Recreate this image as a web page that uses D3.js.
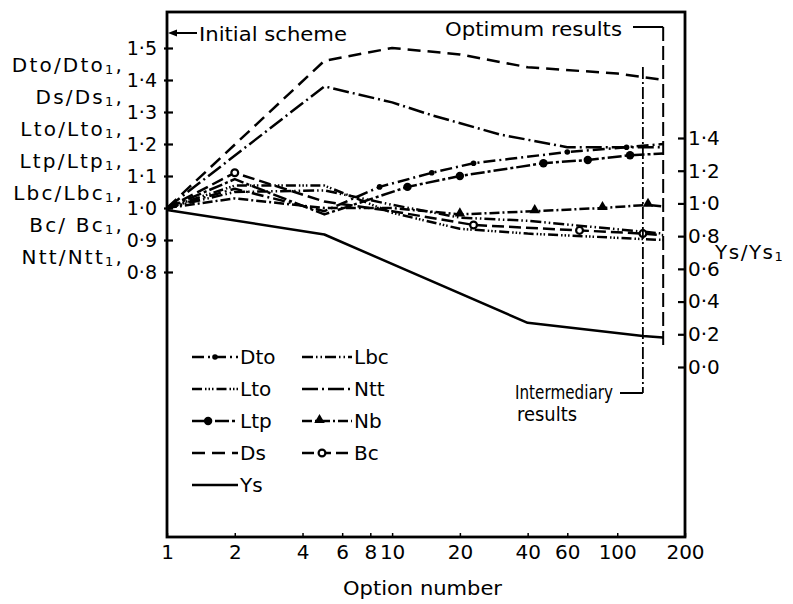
<!DOCTYPE html>
<html><head><meta charset="utf-8">
<script src="https://cdn.jsdelivr.net/npm/d3@7"></script>
<style>
body{margin:0;background:#fff}
svg{display:block}
text{font-family:"DejaVu Sans",sans-serif;fill:#000}
</style>
</head><body>
<svg id="c" width="793" height="604"></svg>
<script>
// ---- data ----
const optionTicks = [1, 2, 4, 6, 8, 10, 20, 40, 60, 100, 200];
const leftTicks = [0.8, 0.9, 1.0, 1.1, 1.2, 1.3, 1.4, 1.5];
const rightTicks = [0.0, 0.2, 0.4, 0.6, 0.8, 1.0, 1.2, 1.4];
const leftLabelNames = ["Dto/Dto", "Ds/Ds", "Lto/Lto", "Ltp/Ltp", "Lbc/Lbc", "Bc/ Bc", "Ntt/Ntt"];

// [option number, ratio]
const ds  = [[1,1.0],[5,1.46],[10,1.50],[20,1.48],[40,1.44],[100,1.42],[160,1.40]];
const ntt = [[1,1.0],[5,1.38],[10,1.33],[15,1.29],[30,1.23],[60,1.19],[160,1.19]];
const dto = [[1,1.0],[2,1.06],[5,0.99],[8.8,1.066],[15,1.11],[23,1.14],[60,1.175],[110,1.19],[160,1.20]];
const ltp = [[1,1.0],[2,1.09],[5,0.98],[11.7,1.066],[20,1.10],[47,1.14],[74,1.15],[114,1.165],[160,1.17]];
const nb  = [[1,1.0],[2,1.03],[5,1.00],[10,1.0],[20,0.98],[43,0.99],[86,1.0],[137,1.01],[160,1.005]];
const lbc = [[1,1.0],[2,1.05],[5,1.055],[10,1.01],[20,0.97],[40,0.96],[160,0.92]];
const bc  = [[1,1.0],[2,1.11],[5,1.02],[10,0.99],[23,0.947],[68,0.93],[130,0.92],[160,0.915]];
const lto = [[1,1.0],[2,1.07],[5,1.07],[10,0.985],[20,0.935],[40,0.92],[160,0.90]];
const ys  = [[1,0.96],[5,0.81],[40,0.27],[130,0.19],[160,0.18]];   // right axis

const dtoMarks = [8.8, 15, 23, 60, 110];
const ltpMarks = [11.7, 20, 47, 74, 114];
const nbMarks  = [20, 43, 86, 137];
const bcMarks  = [2, 23, 68, 130];

const intermediaryOption = 130;
const optimumOption = 160;

// ---- scales ----
const svg = d3.select("#c");
const x  = d3.scaleLog().domain([1, 200]).range([167, 685]);
const yL = d3.scaleLinear().domain([0.8, 1.5]).range([272, 48]);
const yR = d3.scaleLinear().domain([0, 1.4]).range([367, 138]);
const fmt = d => d3.format(".1f")(d).replace(".", "·");

const series = [
  {name:"Ds",  data:ds,  y:yL, dash:"13,7"},
  {name:"Ntt", data:ntt, y:yL, dash:"16,4,2,4"},
  {name:"Dto", data:dto, y:yL, dash:"12,4,2,4", marks:dtoMarks, marker:"dot"},
  {name:"Ltp", data:ltp, y:yL, dash:"14,3,3,3", marks:ltpMarks, marker:"big"},
  {name:"Nb",  data:nb,  y:yL, dash:"10,3,2,3", marks:nbMarks, marker:"tri"},
  {name:"Lbc", data:lbc, y:yL, dash:"11,3,1.5,3,1.5,3"},
  {name:"Bc",  data:bc,  y:yL, dash:"12,5", marks:bcMarks, marker:"circ"},
  {name:"Lto", data:lto, y:yL, dash:"10,3,1.5,2,1.5,2,1.5,3"},
  {name:"Ys",  data:ys,  y:yR, dash:null}
];
const byName = Object.fromEntries(series.map(s => [s.name, s]));

// ---- frame ----
svg.append("rect").attr("x",167).attr("y",12).attr("width",518).attr("height",525)
  .attr("fill","none").attr("stroke","#000").attr("stroke-width",2.8);

// ---- axes ----
const gx = svg.append("g").attr("transform","translate(0,537)")
  .call(d3.axisBottom(x).tickValues(optionTicks).tickFormat(d3.format("d")).tickSize(-4).tickPadding(8));
gx.select(".domain").remove();
gx.selectAll("line").attr("stroke-width",1.5);
gx.selectAll("text").attr("font-size",20).attr("font-family","DejaVu Sans");

const gl = svg.append("g").attr("transform","translate(167,0)")
  .call(d3.axisLeft(yL).tickValues(leftTicks).tickFormat(fmt).tickSize(-6).tickPadding(10));
gl.select(".domain").remove();
gl.selectAll("line").attr("stroke-width",2.2).attr("x1",-3);
gl.selectAll("text").attr("font-size",19).attr("font-family","DejaVu Sans");

const gr = svg.append("g").attr("transform","translate(685,0)")
  .call(d3.axisRight(yR).tickValues(rightTicks).tickFormat(fmt).tickSize(-7).tickPadding(3));
gr.select(".domain").remove();
gr.selectAll("line").attr("stroke-width",2.2);
gr.selectAll("text").attr("font-size",20).attr("font-family","DejaVu Sans");

// ---- axis titles ----
const ll = svg.append("g").attr("font-size",20).attr("letter-spacing",2.2);
leftLabelNames.forEach((n,i) => {
  const t = ll.append("text").attr("x",124).attr("y",72 + i*32.0).attr("text-anchor","end");
  t.append("tspan").text(n);
  t.append("tspan").attr("font-size",13).attr("dy",2).text("1");
  t.append("tspan").attr("dy",-2).text(",");
});
const yt = svg.append("text").attr("x",715).attr("y",259).attr("font-size",20).attr("letter-spacing",1.5);
yt.append("tspan").text("Ys/Ys");
yt.append("tspan").attr("font-size",13).attr("dy",2).text("1");

svg.append("text").attr("x",343).attr("y",595).attr("font-size",19)
  .attr("textLength",159).attr("lengthAdjust","spacingAndGlyphs").text("Option number");

// ---- curves ----
const line = s => d3.line().x(d => x(d[0])).y(d => s.y(d[1]));
series.forEach(s => {
  svg.append("path").datum(s.data).attr("d", line(s)).attr("fill","none")
    .attr("stroke","#000").attr("stroke-width",2.5)
    .attr("stroke-linejoin","round")
    .attr("stroke-dasharray", s.dash);
});

function drawMarker(g, type, cx, cy) {
  if (type === "dot") g.append("circle").attr("cx",cx).attr("cy",cy).attr("r",2.8).attr("fill","#000");
  else if (type === "big") g.append("circle").attr("cx",cx).attr("cy",cy).attr("r",4.2).attr("fill","#000");
  else if (type === "circ") g.append("circle").attr("cx",cx).attr("cy",cy).attr("r",3.4).attr("fill","#fff").attr("stroke","#000").attr("stroke-width",2.2);
  else if (type === "tri") g.append("path").attr("d", d3.symbol(d3.symbolTriangle, 48)()).attr("transform",`translate(${cx},${cy-1})`).attr("fill","#000");
}
const mg = svg.append("g");
series.filter(s => s.marks).forEach(s => {
  s.data.filter(d => s.marks.includes(d[0])).forEach(d => drawMarker(mg, s.marker, x(d[0]), s.y(d[1])));
});

// ---- annotations ----
// Initial scheme
svg.append("line").attr("x1",172).attr("x2",197).attr("y1",33).attr("y2",33).attr("stroke","#000").attr("stroke-width",2);
svg.append("path").attr("d","M168,33 L177,29.5 L177,36.5 Z").attr("fill","#000");
svg.append("text").attr("x",199).attr("y",41).attr("font-size",20)
  .attr("textLength",148).attr("lengthAdjust","spacingAndGlyphs").text("Initial scheme");

// Optimum results
const xo = x(optimumOption);
svg.append("text").attr("x",445).attr("y",36).attr("font-size",20)
  .attr("textLength",177).attr("lengthAdjust","spacingAndGlyphs").text("Optimum results");
svg.append("line").attr("x1",633).attr("x2",xo).attr("y1",27).attr("y2",27).attr("stroke","#000").attr("stroke-width",2);
svg.append("line").attr("x1",xo).attr("x2",xo).attr("y1",27).attr("y2",yR(ys[ys.length-1][1]) + 10)
  .attr("stroke","#000").attr("stroke-width",2).attr("stroke-dasharray","14,5");

// Intermediary results
const xi = x(intermediaryOption);
svg.append("line").attr("x1",xi).attr("x2",xi).attr("y1",67).attr("y2",393)
  .attr("stroke","#000").attr("stroke-width",1.8).attr("stroke-dasharray","12,3,2,3");
svg.append("line").attr("x1",620).attr("x2",xi).attr("y1",393).attr("y2",393).attr("stroke","#000").attr("stroke-width",2);
svg.append("text").attr("x",515).attr("y",399).attr("font-size",19)
  .attr("textLength",98).attr("lengthAdjust","spacingAndGlyphs").text("Intermediary");
svg.append("text").attr("x",517).attr("y",421).attr("font-size",19)
  .attr("textLength",60).attr("lengthAdjust","spacingAndGlyphs").text("results");

// ---- legend ----
const legendCols = [["Dto","Lto","Ltp","Ds","Ys"], ["Lbc","Ntt","Nb","Bc"]];
const legendX = [[192,238],[302,352]];
const markerPos = {Dto:0.5, Ltp:0.35, Nb:0.35, Bc:0.4};
const lg = svg.append("g");
legendCols.forEach((col, ci) => {
  col.forEach((n, ri) => {
    const s = byName[n];
    const cy = 357 + ri*32;
    const [a, b] = legendX[ci];
    lg.append("line").attr("x1",a).attr("x2",b).attr("y1",cy).attr("y2",cy)
      .attr("stroke","#000").attr("stroke-width",2.4).attr("stroke-dasharray", s.dash);
    if (s.marker) drawMarker(lg, s.marker, a + (b-a)*markerPos[n], cy);
    lg.append("text").attr("x",b+2).attr("y",cy+7).attr("font-size",20).text(n);
  });
});
</script>
</body></html>
